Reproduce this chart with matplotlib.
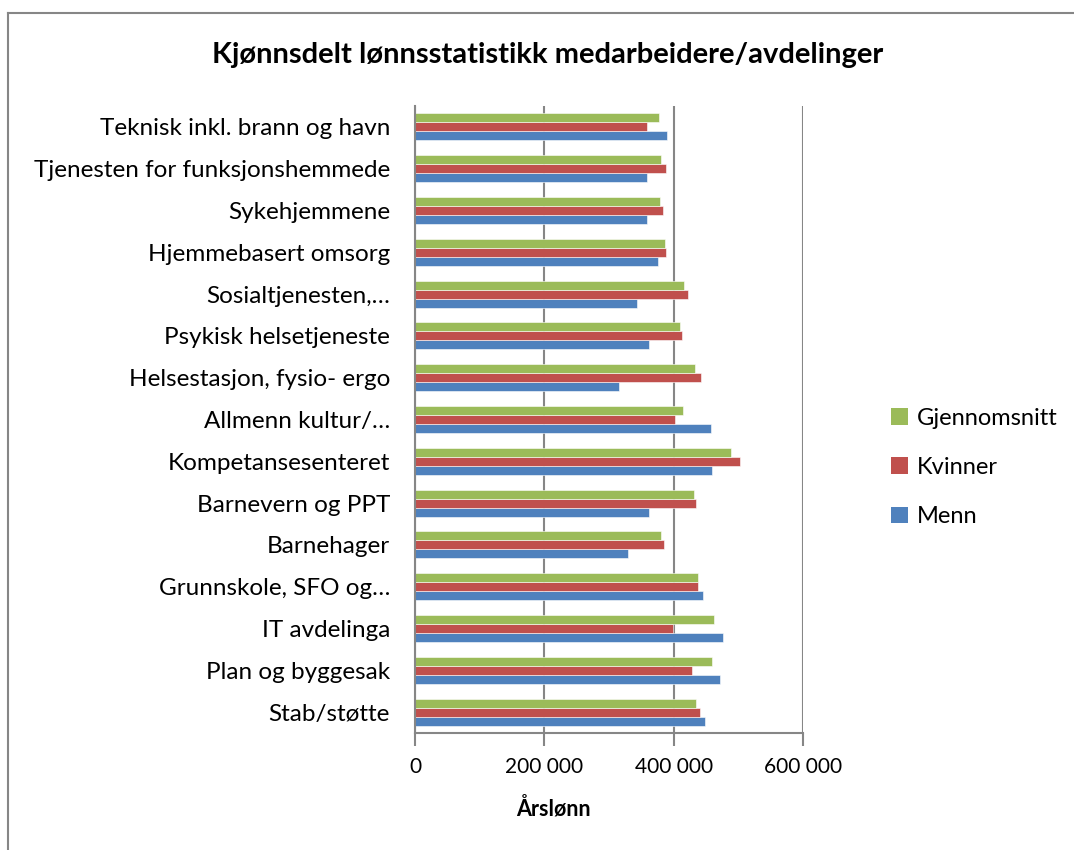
import matplotlib
matplotlib.use("Agg")
import matplotlib.pyplot as plt
import numpy as np
from matplotlib.ticker import FuncFormatter
from matplotlib.patches import Patch
from matplotlib.lines import Line2D

plt.rcParams["font.family"] = ["Lato", "DejaVu Sans"]

# Avdelinger, nedenfra og opp slik de står i diagrammet
avdelinger = [
    "Stab/støtte",
    "Plan og byggesak",
    "IT avdelinga",
    "Grunnskole, SFO og…",
    "Barnehager",
    "Barnevern og PPT",
    "Kompetansesenteret",
    "Allmenn kultur/…",
    "Helsestasjon, fysio- ergo",
    "Psykisk helsetjeneste",
    "Sosialtjenesten,…",
    "Hjemmebasert omsorg",
    "Sykehjemmene",
    "Tjenesten for funksjonshemmede",
    "Teknisk inkl. brann og havn",
]

menn = [448000, 472000, 476000, 445000, 329000, 362000, 460000, 458000,
        316000, 362000, 343000, 375000, 358000, 358000, 390000]
kvinner = [440000, 429000, 399000, 437000, 385000, 435000, 502000, 402000,
           442000, 413000, 422000, 388000, 383000, 388000, 358000]
gjennomsnitt = [435000, 459000, 463000, 437000, 380000, 431000, 488000, 415000,
                433000, 410000, 416000, 386000, 379000, 381000, 378000]

serier = ["Menn", "Kvinner", "Gjennomsnitt"]
farger = ["#4F81BD", "#C0504D", "#9BBB59"]

fig = plt.figure(figsize=(10.74, 8.5), dpi=100)
ax = fig.add_axes([0.3864, 0.1376, 0.3613, 0.7377])

y = np.arange(len(avdelinger))
h = 0.215
for i, (verdier, farge, navn) in enumerate(zip([menn, kvinner, gjennomsnitt], farger, serier)):
    ax.barh(y + (i - 1) * h, verdier, height=h, color=farge, label=navn,
            edgecolor="white", linewidth=0.4)

ax.set_xlim(0, 600000)
ax.set_ylim(-0.5, len(avdelinger) - 0.5)
ax.set_xticks([0, 200000, 400000, 600000])
ax.xaxis.set_major_formatter(FuncFormatter(lambda v, p: f"{int(v):,}".replace(",", " ")))
ax.set_yticks(y)
ax.set_yticklabels(avdelinger, fontsize=17.5)
ax.tick_params(axis="y", length=0, pad=18)
ax.tick_params(axis="x", length=9, width=1.5, color="#868686", labelsize=15, pad=8)

ax.grid(axis="x", color="#868686", linewidth=1.5)
ax.set_axisbelow(True)
for side in ["top", "right"]:
    ax.spines[side].set_visible(False)
for side in ["left", "bottom"]:
    ax.spines[side].set_color("#868686")
    ax.spines[side].set_linewidth(1.5)

fig.text(0.510, 0.935, "Kjønnsdelt lønnsstatistikk medarbeidere/avdelinger",
         ha="center", va="center", fontsize=21, fontweight="bold")
fig.text(553 / 1074, 1 - 808 / 850, "Årslønn", ha="center", va="center",
         fontsize=15.5, fontweight="bold")

# Tegnforklaring, Gjennomsnitt øverst
handles = [Patch(facecolor=farger[k]) for k in [2, 1, 0]]
labels = [serier[k] for k in [2, 1, 0]]
fig.legend(handles, labels, loc="center left", bbox_to_anchor=(0.81, 0.45),
           frameon=False, fontsize=17, handlelength=0.7, handleheight=0.7,
           handletextpad=0.4, labelspacing=1.2)

# Ramme rundt diagrammet
fig.add_artist(Line2D([8 / 1074, 8 / 1074], [0, 1 - 13 / 850], color="#868686", lw=1.5))
fig.add_artist(Line2D([8 / 1074, 1], [1 - 13 / 850, 1 - 13 / 850], color="#868686", lw=1.5))

fig.savefig("out.png", dpi=100)
